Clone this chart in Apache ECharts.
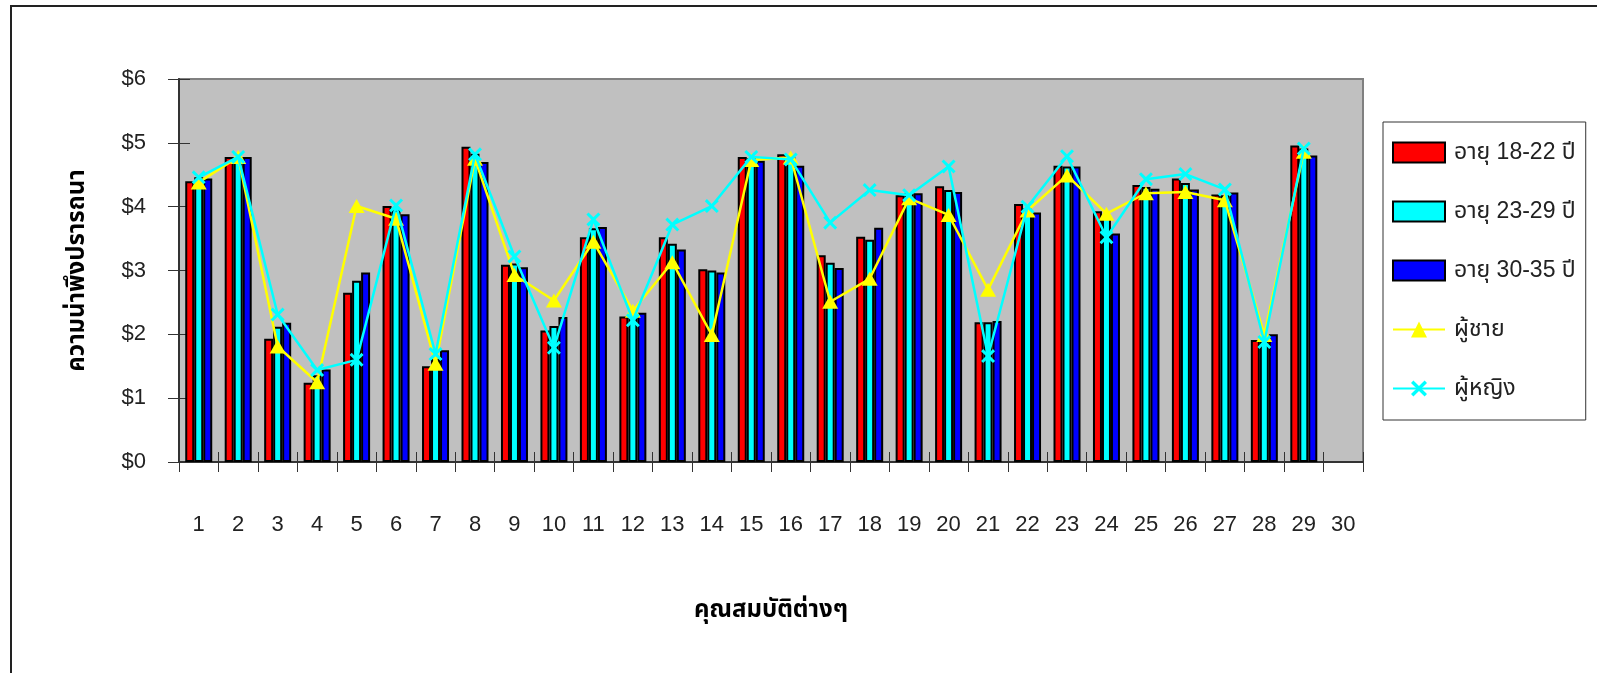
<!DOCTYPE html>
<html>
<head>
<meta charset="utf-8">
<script src="https://cdn.jsdelivr.net/npm/echarts@6/dist/echarts.min.js"></script>
<style>
  html, body { margin: 0; padding: 0; background: #fff; }
  #chart { width: 1597px; height: 673px; }
</style>
</head>
<body>
<div id="chart"></div>
<script>
  // หมวดคุณสมบัติ 1-30
  const categories = ['1','2','3','4','5','6','7','8','9','10','11','12','13','14','15',
    '16','17','18','19','20','21','22','23','24','25','26','27','28','29','30'];

  const age18_22 = [4.40, 4.78, 1.93, 1.24, 2.65, 4.01, 1.50, 4.94, 3.09, 2.06, 3.52, 2.28, 3.52, 3.02, 4.78,
    4.82, 3.24, 3.53, 4.18, 4.32, 2.19, 4.04, 4.64, 3.93, 4.34, 4.44, 4.19, 1.91, 4.96, null];
  const age23_29 = [4.46, 4.78, 2.12, 1.36, 2.84, 3.95, 1.62, 4.83, 3.11, 2.13, 3.66, 2.30, 3.42, 3.00, 4.76,
    4.78, 3.12, 3.48, 4.21, 4.26, 2.19, 3.97, 4.63, 3.84, 4.31, 4.37, 4.18, 1.93, 4.91, null];
  const age30_35 = [4.44, 4.78, 2.18, 1.45, 2.97, 3.88, 1.75, 4.70, 3.05, 2.27, 3.68, 2.34, 3.33, 2.97, 4.72,
    4.64, 3.04, 3.67, 4.21, 4.23, 2.21, 3.91, 4.63, 3.58, 4.28, 4.27, 4.22, 2.00, 4.80, null];
  const male = [4.38, 4.78, 1.81, 1.25, 4.01, 3.81, 1.54, 4.75, 2.93, 2.53, 3.45, 2.37, 3.13, 1.99, 4.73,
    4.77, 2.51, 2.87, 4.13, 3.87, 2.70, 3.94, 4.49, 3.89, 4.21, 4.23, 4.10, 1.99, 4.86, null];
  const female = [4.46, 4.78, 2.31, 1.44, 1.60, 4.02, 1.69, 4.82, 3.22, 1.79, 3.80, 2.22, 3.72, 4.01, 4.78,
    4.74, 3.75, 4.26, 4.18, 4.63, 1.66, 4.00, 4.79, 3.52, 4.43, 4.51, 4.27, 1.88, 4.91, null];

  const FONT = "'Liberation Sans', 'Noto Sans Thai', 'Noto Sans', sans-serif";
  const xSymbol = 'path://M1.5,0 L5,3.5 L8.5,0 L10,1.5 L6.5,5 L10,8.5 L8.5,10 L5,6.5 L1.5,10 L0,8.5 L3.5,5 L0,1.5 Z';

  const chart = echarts.init(document.getElementById('chart'));

  const barStyle = (color) => ({
    color: color,
    borderColor: '#000',
    borderWidth: 2,
  });

  const option = {
    animation: false,
    textStyle: { fontFamily: FONT },
    grid: {
      left: 179,
      right: 234,
      top: 79,
      bottom: 211,
      show: true,
      backgroundColor: '#c0c0c0',
      borderColor: '#808080',
      borderWidth: 2,
    },
    legend: {
      orient: 'vertical',
      left: 1383,
      top: 122,
      padding: [19, 10, 20, 9],
      itemGap: 36,
      itemWidth: 52,
      itemHeight: 20,
      borderColor: '#333',
      borderWidth: 1,
      textStyle: { fontSize: 23, lineHeight: 20, color: '#222', fontFamily: FONT, padding: [0, 0, 0, 4] },
      data: [
        { name: 'อายุ 18-22 ปี', icon: 'rect' },
        { name: 'อายุ 23-29 ปี', icon: 'rect' },
        { name: 'อายุ 30-35 ปี', icon: 'rect' },
        'ผู้ชาย',
        'ผู้หญิง',
      ],
    },
    xAxis: [
      {
        type: 'category',
        data: categories,
        boundaryGap: true,
        name: 'คุณสมบัติต่างๆ',
        nameLocation: 'middle',
        nameGap: 136,
        nameTextStyle: { fontSize: 24, fontWeight: 'bold', color: '#000', fontFamily: FONT },
        axisLine: { lineStyle: { color: '#333', width: 2 } },
        axisTick: { show: true, length: 10, lineStyle: { color: '#333' } },
        axisLabel: { margin: 52, fontSize: 22, color: '#222' },
      },
      {
        type: 'category',
        data: categories,
        position: 'bottom',
        axisLine: { show: false },
        axisTick: { show: true, inside: true, length: 10, lineStyle: { color: '#333' } },
        axisLabel: { show: false },
      },
    ],
    yAxis: [
      {
        type: 'value',
        min: 0,
        max: 6,
        interval: 1,
        name: 'ความน่าพึงปรารถนา',
        nameLocation: 'middle',
        nameGap: 90,
        nameTextStyle: { fontSize: 24, fontWeight: 'bold', color: '#000', fontFamily: FONT },
        axisLine: { show: true, lineStyle: { color: '#333', width: 2 } },
        axisTick: { show: true, length: 11, lineStyle: { color: '#333' } },
        axisLabel: { margin: 33, fontSize: 22, color: '#222', formatter: (v) => '$' + v },
        splitLine: { show: false },
      },
      {
        type: 'value',
        min: 0,
        max: 6,
        interval: 1,
        position: 'left',
        axisLine: { show: false },
        axisTick: { show: true, inside: true, length: 11, lineStyle: { color: '#333' } },
        axisLabel: { show: false },
        splitLine: { show: false },
      },
    ],
    series: [
      {
        name: 'อายุ 18-22 ปี',
        type: 'bar',
        data: age18_22,
        barWidth: 9,
        barGap: '0%',
        itemStyle: barStyle('#ff0000'),
      },
      {
        name: 'อายุ 23-29 ปี',
        type: 'bar',
        data: age23_29,
        barWidth: 9,
        barGap: '0%',
        itemStyle: barStyle('#00ffff'),
      },
      {
        name: 'อายุ 30-35 ปี',
        type: 'bar',
        data: age30_35,
        barWidth: 9,
        barGap: '0%',
        itemStyle: barStyle('#0000ff'),
      },
      {
        name: 'ผู้ชาย',
        type: 'line',
        data: male,
        z: 5,
        symbol: 'triangle',
        symbolSize: [16, 14],
        lineStyle: { color: '#ffff00', width: 2.5 },
        itemStyle: { color: '#ffff00', borderWidth: 0 },
      },
      {
        name: 'ผู้หญิง',
        type: 'line',
        data: female,
        z: 6,
        symbol: xSymbol,
        symbolSize: 14,
        lineStyle: { color: '#00ffff', width: 2.5 },
        itemStyle: { color: '#00ffff', borderWidth: 0 },
      },
    ],
    graphic: [
      {
        type: 'polyline',
        shape: { points: [[11, 673], [11, 6], [1597, 6]] },
        style: { stroke: '#222', lineWidth: 2, fill: null },
      },
    ],
  };

  chart.setOption(option);
</script>
</body>
</html>
